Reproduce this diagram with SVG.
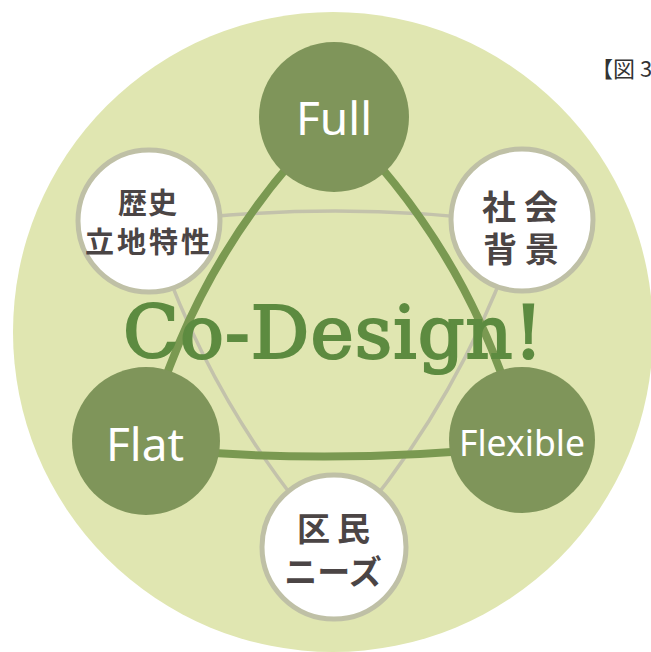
<svg xmlns="http://www.w3.org/2000/svg" width="651" height="652" viewBox="0 0 651 652">
<style>
.bg{fill:#e0e6b1}
.dark{fill:#7f955a}
.light{fill:#ffffff;stroke:#bfc0a6;stroke-width:5}
.thick{fill:none;stroke:#7a9951;stroke-width:8;stroke-linecap:round}
.thin{fill:none;stroke:#c3c2ab;stroke-width:3.5}
.en{font-family:"Noto Sans","Open Sans",sans-serif;fill:#ffffff;text-anchor:middle}
.jp{font-family:"Noto Sans CJK JP","Noto Sans",sans-serif;font-weight:bold;fill:#4b4545;text-anchor:middle}
</style>
<rect x="0" y="0" width="651" height="652" fill="#ffffff"/>
<circle class="bg" cx="333" cy="332" r="320"/>
<text x="591" y="77" font-family="Noto Sans CJK JP, Noto Sans, sans-serif" font-size="22" fill="#333333">【図 3</text>
<g id="connectors">
  <path class="thin" d="M149,224 Q335,198 522,224"/>
  <path class="thin" d="M149,221 Q207,404 334,547"/>
  <path class="thin" d="M522,220 Q463,403 334,547"/>
  <path class="thick" d="M334,117 Q195,253 146,441"/>
  <path class="thick" d="M334,117 Q473,252 522,440"/>
  <path class="thick" d="M146,448 Q334,466 522,446"/>
</g>
<g id="node-full">
  <circle class="dark" cx="334" cy="117" r="75"/>
  <text class="en" x="334" y="135" font-size="46">Full</text>
</g>
<g id="node-flat">
  <circle class="dark" cx="146" cy="441" r="74"/>
  <text class="en" x="145" y="461" font-size="46">Flat</text>
</g>
<g id="node-flexible">
  <circle class="dark" cx="522" cy="440" r="73"/>
  <text class="en" x="522" y="456" font-size="37" textLength="126" lengthAdjust="spacingAndGlyphs">Flexible</text>
</g>
<g id="node-history">
  <circle class="light" cx="149" cy="221" r="71"/>
  <text class="jp" x="148" y="214" font-size="29" letter-spacing="1">歴史</text>
  <text class="jp" x="149" y="253" font-size="29" letter-spacing="3">立地特性</text>
</g>
<g id="node-social">
  <circle class="light" cx="522" cy="220" r="71"/>
  <text class="jp" x="524" y="220" font-size="34" letter-spacing="8">社会</text>
  <text class="jp" x="525" y="262" font-size="34" letter-spacing="8">背景</text>
</g>
<g id="node-needs">
  <circle class="light" cx="334" cy="547" r="72"/>
  <text class="jp" x="337" y="541" font-size="33" letter-spacing="7">区民</text>
  <text class="jp" x="333" y="584" font-size="33">ニーズ</text>
</g>
<text x="123" y="358" font-family="DejaVu Serif, serif" font-size="73" fill="#5d8b40" stroke="#5d8b40" stroke-width="2.2" textLength="420" lengthAdjust="spacing">Co-Design!</text>
</svg>
